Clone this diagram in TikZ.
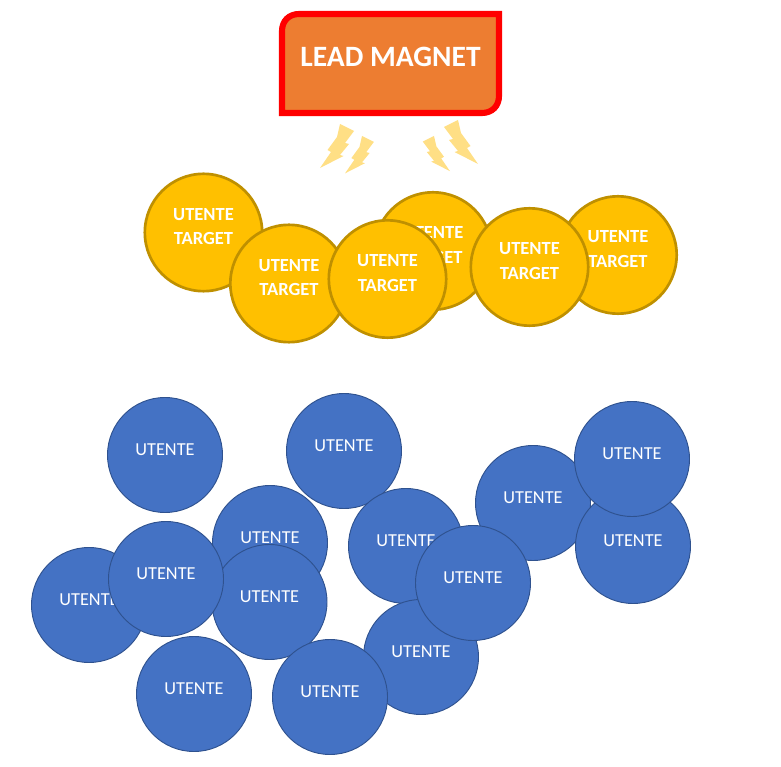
\documentclass[tikz,border=0pt]{standalone}
\usepackage{fontspec}
\setmainfont{Carlito}
\usepackage{xcolor}
\definecolor{magnetfill}{HTML}{ED7D31}
\definecolor{targetfill}{HTML}{FFC000}
\definecolor{targetline}{HTML}{BF9000}
\definecolor{userfill}{HTML}{4472C4}
\definecolor{userline}{HTML}{2F528F}
\definecolor{boltfill}{HTML}{FFDF85}
\tikzset{
  every node/.style={font=\rmfamily},
  bolt/.pic={
    \fill[boltfill] (0,0) -- (14,7) -- (5,19) -- (9,20) -- (0,31) -- (3.5,32)
      -- (-20,44) -- (-9,28) -- (-12.5,26) -- (-3,13) -- cycle;
  }
}
\begin{document}
\begin{tikzpicture}[x=0.03cm,y=-0.03cm]
  % Define overall style for the circles
  \tikzset{
    targetnode/.style={
      draw=targetline,
      fill=targetfill,
      circle,
      minimum size=3.52cm,
      inner sep=0pt,
      line width=2.3pt,
      align=center,
      text=white,
      font=\fontsize{15.8}{20.8}\selectfont\bfseries,
      text depth=0.36cm
    },
    usernode/.style={
      draw=userline,
      fill=userfill,
      circle,
      minimum size=3.45cm,
      inner sep=0pt,
      line width=0.8pt,
      text=white,
      font=\fontsize{15.6}{19}\selectfont,
      text depth=0.32cm
    },
    magnet/.style={
      draw=red,
      fill=magnetfill,
      line width=5.2pt
    },
    magnetlabel/.style={
      text=white,
      font=\fontsize{25.2}{29}\selectfont\bfseries
    }
  }
  \useasboundingbox (0,0) rectangle (781,767);

  % Lead magnet box
  \draw[magnet] (282,113) -- (282,31) .. controls (282,21) and (289,14) .. (299,14)
    -- (499,14) -- (499,96) .. controls (499,106) and (492,113) .. (482,113) -- cycle;
  \node[magnetlabel] (magnet) at (390.5,57) {LEAD MAGNET};

  % Bolts below the box
  \pic at (340,124) {bolt};
  \pic[scale=0.85] at (362,136) {bolt};
  \pic[xscale=-0.8,yscale=0.8] at (434,136) {bolt};
  \pic[xscale=-1] at (458,120) {bolt};

  % Target users, back to front
  \foreach \name/\x/\y in {t1/203.5/232.5,t2/289/283.5,t4/433/251,t3/387.5/279,t6/618/255,t5/529.5/267} {
    \node[targetnode] (\name) at (\x,\y) {UTENTE\\TARGET};
  }

  % Other users, back to front
  \foreach \name/\x/\y in {u1/165/455,u2/344/451,u3/270/543,u4/406/546,u5/533/503,u6/633/546,
      u7/632/459,u8/89/605,u9/269.5/602,u10/166/579,u11/421/657,u12/473/583,u13/194/694,u14/330/697} {
    \node[usernode] (\name) at (\x,\y) {UTENTE};
  }
\end{tikzpicture}
\end{document}
